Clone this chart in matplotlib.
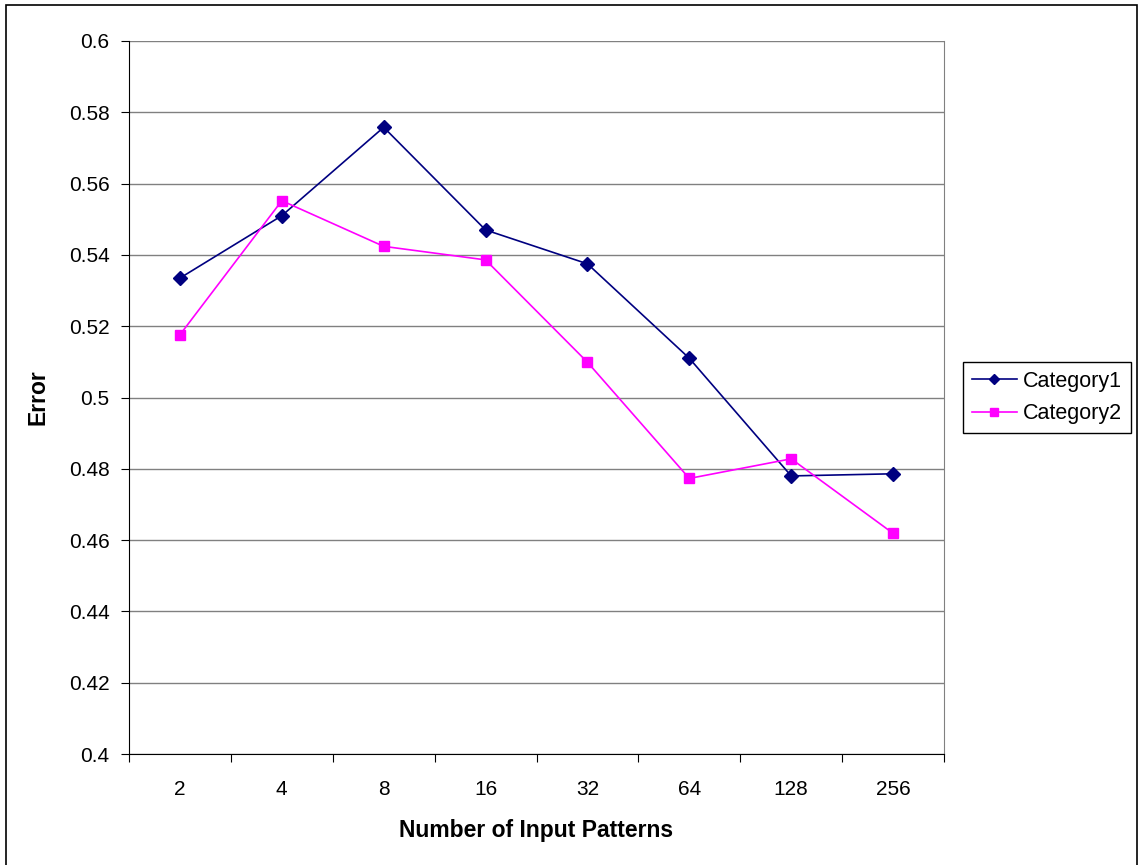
import matplotlib.pyplot as plt
from matplotlib.patches import Rectangle

patterns = ["2", "4", "8", "16", "32", "64", "128", "256"]
category1 = [0.5335, 0.551, 0.5758, 0.547, 0.5375, 0.511, 0.478, 0.4786]
category2 = [0.5176, 0.5552, 0.5424, 0.5386, 0.5099, 0.4773, 0.4828, 0.4619]

plt.rcParams['font.family'] = ['Liberation Sans', 'DejaVu Sans']

fig = plt.figure(figsize=(11.39, 8.65), dpi=100)
ax = fig.add_axes([129/1139, 111/865, 815/1139, 713/865])

x = list(range(len(patterns)))
ax.plot(x, category1, color='#000080', lw=1.2, marker='D', ms=7, label='Category1')
ax.plot(x, category2, color='#FF00FF', lw=1.2, marker='s', ms=7, label='Category2')

ax.set_xlim(-0.5, len(patterns) - 0.5)
ax.set_ylim(0.4, 0.6)
ax.set_yticks([0.4 + 0.02*i for i in range(11)])
ax.set_yticklabels(['0.4', '0.42', '0.44', '0.46', '0.48', '0.5', '0.52', '0.54', '0.56', '0.58', '0.6'])
ax.yaxis.grid(True, color='#808080', lw=1)
ax.set_axisbelow(True)

# category labels sit between the tick marks
ax.set_xticks([i - 0.5 for i in range(len(patterns) + 1)])
ax.set_xticklabels([])
ax.set_xticks(x, minor=True)
ax.set_xticklabels(patterns, minor=True)
ax.tick_params(axis='x', which='minor', length=0, pad=19, labelsize=15)
ax.tick_params(axis='x', which='major', length=6, direction='out', color='black')
ax.tick_params(axis='y', length=6, direction='out', pad=8, labelsize=15)

ax.spines['top'].set_visible(False)
ax.spines['right'].set_color('#808080')
ax.spines['left'].set_color('black')
ax.spines['bottom'].set_color('black')

ax.set_ylabel('Error', fontsize=16.5, fontweight='bold', labelpad=14)
ax.set_xlabel('Number of Input Patterns', fontsize=16.5, fontweight='bold', labelpad=14)

fig.legend(loc='upper left', bbox_to_anchor=(963/1139, 1 - 362/865), fontsize=15.5,
           fancybox=False, edgecolor='black', framealpha=1, handlelength=2.1,
           borderpad=0.4, labelspacing=0.55, handletextpad=0.3, borderaxespad=0,
           markerscale=0.8)

fig.patches.append(Rectangle((6/1139, -0.05), 1131/1139, 1.05 - 5/865, transform=fig.transFigure,
                             fill=False, edgecolor='black', lw=1.2))

fig.savefig('out.png', dpi=100)
